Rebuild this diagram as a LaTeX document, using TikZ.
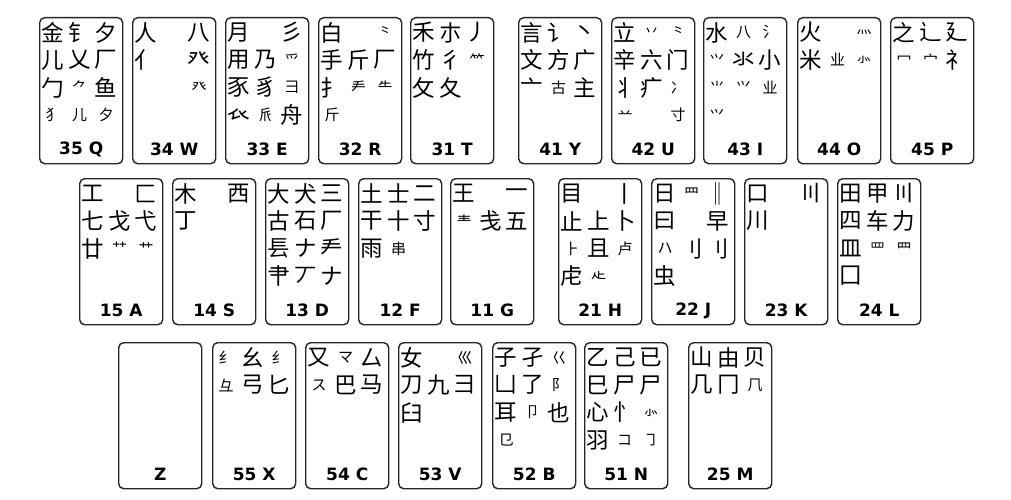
\documentclass[tikz,border=0pt]{standalone}
\usepackage{fontspec}
\setmainfont{Liberation Sans}
\newfontfamily\cjk{Noto Sans CJK SC}
\newfontfamily\keyfont{DejaVu Sans}
\usetikzlibrary{calc,positioning}
\tikzset{keybox/.style={
            draw=black!85,
            line width=1.4pt,
            rounded corners=5pt,
            inner sep=0pt,
            minimum width=83pt,
            minimum height=146pt,
            anchor=north west
        },
        keylabel/.style={
            inner sep=0pt,
            font=\keyfont\fontsize{17}{17}\selectfont\bfseries
        },
        hanzi/.style={
            inner sep=0pt,
            font=\cjk\fontsize{22.5}{22.5}\selectfont
        }
    }
\newcommand{\sm}[1]{{\fontsize{15}{15}\selectfont #1}}
% one key: name, left, top, label
\newcommand{\wbkey}[4]{%
    \node[keybox] (#1) at (#2,#3) {};
    \node[keylabel] (#1lab) at ([yshift=15pt]#1.south) {#4};}
% one row of radicals in a key: key, row, list
\newcommand{\wbrow}[3]{%
    \foreach \ch [count=\i] in {#3} {
        \node[hanzi] (#1r#2c\i) at ($(#1.north west)+(\i*26.5-12.5,#2*27.5-12)$) {\ch};
    }}

\begin{document}
\begin{tikzpicture}[x=1pt,y=-1pt]
    \fill[white] (0,0) rectangle (1011,500);
    \useasboundingbox (0,0) rectangle (1011,500);

    % top row
    \wbkey{q}{39}{17}{35 Q}
    \wbrow{q}{1}{金,钅,夕}
    \wbrow{q}{2}{儿,乂,厂}
    \wbrow{q}{3}{勹,\sm{⺈},鱼}
    \wbrow{q}{4}{\sm{犭},\sm{儿},\sm{夕}}
    \wbkey{w}{132}{17}{34 W}
    \wbrow{w}{1}{人,{},八}
    \wbrow{w}{2}{亻,{},癶}
    \wbrow{w}{3}{{},{},\sm{癶}}
    \wbkey{e}{225}{17}{33 E}
    \wbrow{e}{1}{月,{},彡}
    \wbrow{e}{2}{用,乃,\sm{爫}}
    \wbrow{e}{3}{豕,豸,\sm{⺕}}
    \wbrow{e}{4}{𧘇,\sm{𠂢},舟}
    \wbkey{r}{318}{17}{32 R}
    \wbrow{r}{1}{白,{},\sm{⺀}}
    \wbrow{r}{2}{手,斤,厂}
    \wbrow{r}{3}{扌,\sm{龵},\sm{⺧}}
    \wbrow{r}{4}{\sm{斤}}
    \wbkey{t}{410}{17}{31 T}
    \wbrow{t}{1}{禾,朩,丿}
    \wbrow{t}{2}{竹,彳,\sm{⺮}}
    \wbrow{t}{3}{攵,夂}
    \wbkey{y}{518}{17}{41 Y}
    \wbrow{y}{1}{言,讠,丶}
    \wbrow{y}{2}{文,方,广}
    \wbrow{y}{3}{亠,\sm{古},主}
    \wbkey{u}{611}{17}{42 U}
    \wbrow{u}{1}{立,\sm{丷},\sm{⺀}}
    \wbrow{u}{2}{辛,六,门}
    \wbrow{u}{3}{丬,疒,\sm{冫}}
    \wbrow{u}{4}{\sm{䒑},{},\sm{寸}}
    \wbkey{i}{703}{17}{43 I}
    \wbrow{i}{1}{水,\sm{八},\sm{⺡}}
    \wbrow{i}{2}{\sm{⺍},氺,小}
    \wbrow{i}{3}{\sm{⺌},\sm{⺍},\sm{业}}
    \wbrow{i}{4}{\sm{⺍}}
    \wbkey{o}{797}{17}{44 O}
    \wbrow{o}{1}{火,{},\sm{灬}}
    \wbrow{o}{2}{米,\sm{业},\sm{⺗}}
    \wbkey{p}{890}{17}{45 P}
    \wbrow{p}{1}{之,辶,廴}
    \wbrow{p}{2}{\sm{冖},\sm{宀},礻}

    % middle row
    \wbkey{a}{79}{178}{15 A}
    \wbrow{a}{1}{工,{},匚}
    \wbrow{a}{2}{七,戈,弋}
    \wbrow{a}{3}{廿,\sm{⺿},\sm{艹}}
    \wbkey{s}{172}{178}{14 S}
    \wbrow{s}{1}{木,{},西}
    \wbrow{s}{2}{丁}
    \wbkey{d}{265}{178}{13 D}
    \wbrow{d}{1}{大,犬,三}
    \wbrow{d}{2}{古,石,厂}
    \wbrow{d}{3}{镸,ナ,龵}
    \wbrow{d}{4}{肀,丆,ナ}
    \wbkey{f}{358}{178}{12 F}
    \wbrow{f}{1}{土,士,二}
    \wbrow{f}{2}{干,十,寸}
    \wbrow{f}{3}{雨,\sm{串}}
    \wbkey{g}{450}{178}{11 G}
    \wbrow{g}{1}{王,{},一}
    \wbrow{g}{2}{\sm{龶},戋,五}
    \wbkey{h}{558}{178}{21 H}
    \wbrow{h}{1}{目,{},丨}
    \wbrow{h}{2}{止,上,卜}
    \wbrow{h}{3}{\sm{⺊},且,\sm{卢}}
    \wbrow{h}{4}{虍,\sm{龰}}
    \wbkey{j}{651}{178}{22 J}
    \wbrow{j}{1}{日,\sm{⺫},‖}
    \wbrow{j}{2}{曰,{},早}
    \wbrow{j}{3}{\sm{ハ},刂,⺉}
    \wbrow{j}{4}{虫}
    \wbkey{k}{744}{178}{23 K}
    \wbrow{k}{1}{口,{},〣}
    \wbrow{k}{2}{川}
    \wbkey{l}{837}{178}{24 L}
    \wbrow{l}{1}{田,甲,〣}
    \wbrow{l}{2}{四,车,力}
    \wbrow{l}{3}{皿,\sm{罒},\sm{⺲}}
    \wbrow{l}{4}{囗}

    % bottom row
    \wbkey{z}{118}{342}{Z}
    \wbkey{x}{212}{342}{55 X}
    \wbrow{x}{1}{\sm{纟},幺,\sm{纟}}
    \wbrow{x}{2}{\sm{彑},弓,匕}
    \wbkey{c}{305}{342}{54 C}
    \wbrow{c}{1}{又,\sm{マ},厶}
    \wbrow{c}{2}{\sm{ス},巴,马}
    \wbkey{v}{398}{342}{53 V}
    \wbrow{v}{1}{女,{},\sm{巛}}
    \wbrow{v}{2}{刀,九,彐}
    \wbrow{v}{3}{臼}
    \wbkey{b}{492}{342}{52 B}
    \wbrow{b}{1}{子,孑,\sm{巜}}
    \wbrow{b}{2}{凵,了,\sm{阝}}
    \wbrow{b}{3}{耳,\sm{卩},也}
    \wbrow{b}{4}{\sm{㔾}}
    \wbkey{n}{584}{342}{51 N}
    \wbrow{n}{1}{乙,己,已}
    \wbrow{n}{2}{巳,尸,尸}
    \wbrow{n}{3}{心,忄,\sm{⺗}}
    \wbrow{n}{4}{羽,\sm{コ},\sm{㇆}}
    \wbkey{m}{688}{342}{25 M}
    \wbrow{m}{1}{山,由,贝}
    \wbrow{m}{2}{几,冂,\sm{⺇}}
\end{tikzpicture}
\end{document}
